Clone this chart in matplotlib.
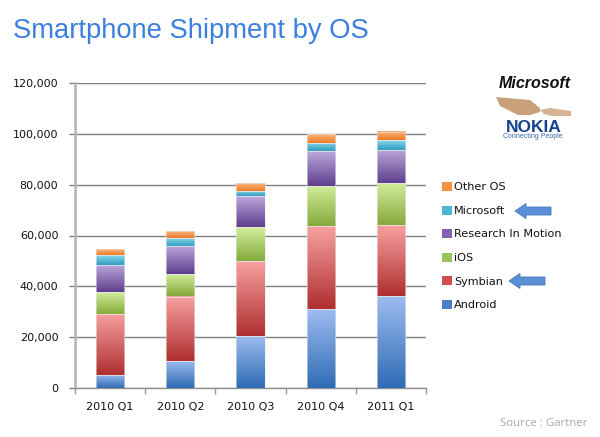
import matplotlib
matplotlib.use('Agg')
import matplotlib.pyplot as plt
import numpy as np
from matplotlib.colors import LinearSegmentedColormap
from matplotlib.patches import FancyArrow, Patch, Polygon

W, H = 600, 437

quarters = ['2010 Q1', '2010 Q2', '2010 Q3', '2010 Q4', '2011 Q1']
android = [5300, 10700, 20600, 31000, 36300]
symbian = [24000, 25300, 29400, 32600, 27700]
ios = [8300, 8700, 13300, 16000, 16600]
rim = [10700, 11300, 12100, 13600, 13200]
microsoft = [3900, 3000, 2300, 3200, 3600]
other = [2300, 2700, 2900, 3400, 3500]

series_names = ['Android', 'Symbian', 'iOS', 'Research In Motion', 'Microsoft', 'Other OS']
series_values = [android, symbian, ios, rim, microsoft, other]
# (bottom colour, top colour) of each gradient
series_colors = [('#2f6cb5', '#9dbcf0'), ('#b03030', '#f7a0a0'), ('#85aa3c', '#d2ee9c'),
                 ('#5f3f8e', '#bda8dc'), ('#2f9dc0', '#8ad6ee'), ('#ee7d28', '#fbb27a')]
legend_colors = ['#4a7fc4', '#d05050', '#9cc45c', '#8562b0', '#4cb4d4', '#f59244']

fig = plt.figure(figsize=(W / 100, H / 100), dpi=100)
fig.patch.set_facecolor('white')
ax = fig.add_axes([75 / W, 1 - 388 / H, 351 / W, 305 / H])

x = np.arange(len(quarters))
bottom = np.zeros(len(quarters))
for vals, cols in zip(series_values, series_colors):
    bars = ax.bar(x, vals, 0.4, bottom=bottom, facecolor='none', edgecolor='#e8e8e8',
                  linewidth=0.4, zorder=4)
    cmap = LinearSegmentedColormap.from_list('grad', cols)
    for bar in bars:
        im = ax.imshow(np.linspace(1, 0, 64).reshape(-1, 1), cmap=cmap, aspect='auto',
                       extent=[bar.get_x(), bar.get_x() + bar.get_width(),
                               bar.get_y(), bar.get_y() + bar.get_height()], zorder=3)
    bottom += np.array(vals)

ax.set_xlim(-0.5, 4.5)
ax.set_ylim(0, 120000)
ax.set_yticks(np.arange(0, 120001, 20000))
ax.set_yticklabels([f'{v:,}' for v in np.arange(0, 120001, 20000)])
ax.set_xticks(x)
ax.set_xticklabels(quarters)
ax.set_xticks(np.arange(-0.5, 5), minor=True)
ax.tick_params(axis='x', which='major', length=0, pad=10, labelsize=8, labelcolor='#111111')
ax.tick_params(axis='x', which='minor', length=4, color='#999999', width=1)
ax.tick_params(axis='y', length=4, color='#808080', width=1, pad=8, labelsize=8, labelcolor='#111111')
ax.grid(axis='y', color='#808080', linewidth=1, zorder=1)
ax.set_axisbelow(True)
for s in ['top', 'right']:
    ax.spines[s].set_visible(False)
ax.spines['left'].set_color('#b4b4b4')
ax.spines['left'].set_linewidth(1.8)
ax.spines['bottom'].set_color('#909090')
ax.spines['bottom'].set_linewidth(1)

handles = [Patch(facecolor=c, edgecolor='none') for c in legend_colors]
fig.legend(handles[::-1], series_names[::-1], loc='upper left',
           bbox_to_anchor=(442 / W, 1 - 182 / H), frameon=False, fontsize=8.1,
           handlelength=0.85, handleheight=0.85, handletextpad=0.24, labelspacing=1.17,
           labelcolor='#111111', borderpad=0, borderaxespad=0)

# overlay in pixel coordinates for title, arrows and logo
ov = fig.add_axes([0, 0, 1, 1])
ov.set_xlim(0, W)
ov.set_ylim(H, 0)
ov.axis('off')
ov.patch.set_alpha(0)

fig.text(13 / W, 1 - 38 / H, 'Smartphone Shipment by OS', color='#3b7fe0', fontsize=19.7,
         family='Liberation Sans', ha='left', va='baseline')
fig.text(587 / W, 1 - 426 / H, 'Source : Gartner', color='#a8a8a8', fontsize=8.2,
         ha='right', va='baseline', family='Open Sans')

for tail_x, arrow_y in [(551, 211), (545, 281)]:
    ov.add_patch(FancyArrow(tail_x, arrow_y, -36, 0, width=8, head_width=15, head_length=11,
                            length_includes_head=True, facecolor='#5b90d8', edgecolor='#4a78b8',
                            linewidth=0.6))

ov.text(535, 84, 'Microsoft', family='Liberation Sans', style='italic', weight='bold', fontsize=11.5,
        color='#111111', ha='center', va='center')
ov.add_patch(Polygon([(496, 97), (518, 99), (530, 100), (540, 108), (540, 112), (530, 115),
                      (518, 115), (500, 106)], facecolor='#c9a07c', edgecolor='none'))
ov.add_patch(Polygon([(540, 110), (550, 108), (571, 111), (571, 116), (552, 116), (544, 114)],
                     facecolor='#d8b294', edgecolor='none'))
ov.text(533.5, 127, 'NOKIA', family='Liberation Sans', weight='bold', fontsize=12.5,
        color='#14428c', ha='center', va='center')
ov.text(533, 137, 'Connecting People', family='Liberation Sans', fontsize=5,
        color='#3a68a8', ha='center', va='center')

fig.savefig('out.png', dpi=100)
